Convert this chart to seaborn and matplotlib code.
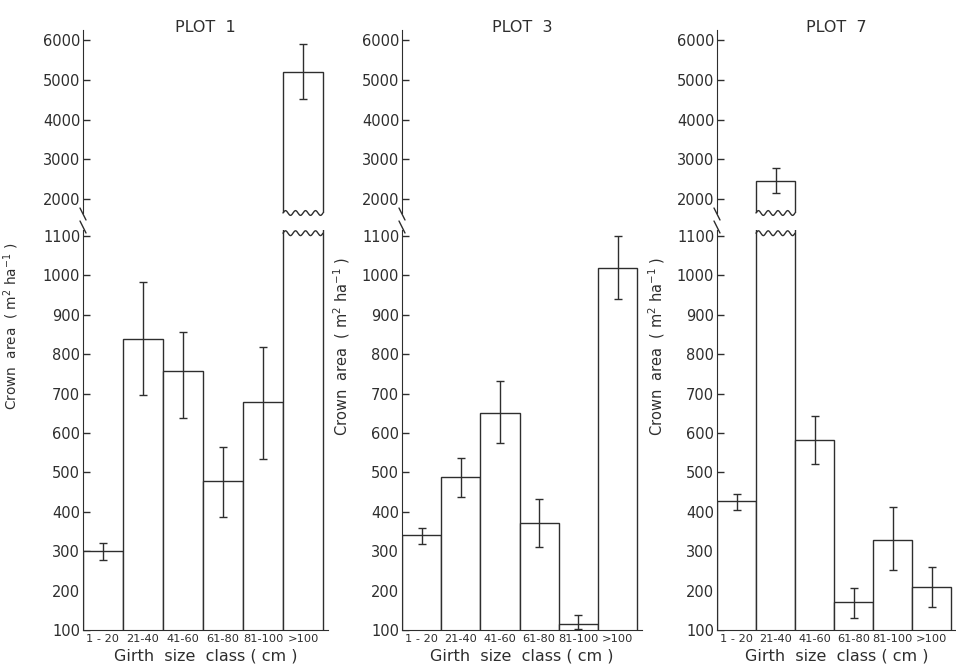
import numpy as np
import pandas as pd
import matplotlib
matplotlib.use("Agg")
import matplotlib.pyplot as plt
from matplotlib.lines import Line2D
import seaborn as sns

# --------- data ------------------------------
classes = ["1 - 20", "21-40", "41-60", "61-80", "81-100", ">100"]
plot_names = ["PLOT  1", "PLOT  3", "PLOT  7"]

# mean crown area (m2 ha-1) and the ends of the error bars
plot1_mean = [300, 838, 757, 478, 678, 5200]
plot1_low = [278, 697, 638, 387, 535, 4520]
plot1_high = [320, 982, 857, 565, 817, 5900]

plot3_mean = [340, 488, 650, 372, 116, 1019]
plot3_low = [318, 437, 575, 311, 103, 940]
plot3_high = [360, 536, 733, 432, 138, 1100]

plot7_mean = [427, 2460, 582, 170, 328, 210]
plot7_low = [405, 2150, 521, 130, 251, 159]
plot7_high = [446, 2790, 643, 206, 413, 261]

lower_ticks = list(range(100, 1200, 100))
upper_ticks = [2000, 3000, 4000, 5000, 6000]
# ---------------------------------------------

INK = "#2e2e2e"
W, H = 956, 672
LOWER_LIM = (100, 1115)
UPPER_LIM = (1650, 6250)

sns.set_style("ticks")
plt.rcParams["font.family"] = ["DejaVu Sans"]
plt.rcParams["text.color"] = INK
plt.rcParams["axes.labelcolor"] = INK
plt.rcParams["xtick.color"] = INK
plt.rcParams["ytick.color"] = INK

fig = plt.figure(figsize=(W / 100, H / 100), dpi=100)

# pixel layout of each panel: left edge of axis, width of one bar,
# y label position (axes coords) and y label size
panels = [
    (plot1_mean, plot1_low, plot1_high, 83, 40.0, -0.255, 0.76, 9.8),
    (plot3_mean, plot3_low, plot3_high, 402, 39.2, -0.21, 0.71, 10.5),
    (plot7_mean, plot7_low, plot7_high, 717, 39.0, -0.21, 0.71, 10.5),
]

low_top, low_bot = 230, 630
up_top, up_bot = 30, 213


def px_rect(left, top, width, bottom):
    return [left / W, 1 - bottom / H, width / W, (bottom - top) / H]


for k, (mean, lo, hi, x0, bw, lab_x, lab_y, lab_fs) in enumerate(panels):
    width_px = bw * 6.12
    ax_lo = fig.add_axes(px_rect(x0, low_top, width_px, low_bot))
    ax_up = fig.add_axes(px_rect(x0, up_top, width_px, up_bot))

    df = pd.DataFrame({"cls": classes, "area": mean})
    mean = np.array(mean)
    yerr = [mean - np.array(lo), np.array(hi) - mean]
    pos = np.arange(len(classes))

    for ax in (ax_lo, ax_up):
        sns.barplot(data=df, x="cls", y="area", order=classes, ax=ax,
                    color="white", saturation=1, edgecolor=INK, linewidth=1.0,
                    width=1.0, errorbar=None)
        ax.errorbar(pos, mean, yerr=yerr, fmt="none", ecolor=INK,
                    elinewidth=1.0, capsize=3, capthick=1.0)
        ax.set_xlim(-0.5, 5.62)
        ax.set_xlabel("")
        ax.set_ylabel("")
        ax.tick_params(axis="y", direction="in", length=5, width=1,
                       labelsize=10.5, pad=2)
        for s in ("top", "right"):
            ax.spines[s].set_visible(False)
        ax.spines["left"].set_color(INK)
        ax.spines["bottom"].set_color(INK)

    ax_lo.set_ylim(*LOWER_LIM)
    ax_lo.set_yticks(lower_ticks)
    ax_lo.tick_params(axis="x", length=0, labelsize=8.2, pad=3)
    ax_lo.set_xticks(pos)
    ax_lo.set_xticklabels(classes)
    ax_lo.set_xlabel("Girth  size  class ( cm )", fontsize=11.5, labelpad=3)
    ax_lo.set_ylabel("Crown  area  ( m$^2$ ha$^{-1}$ )", fontsize=lab_fs)
    ax_lo.yaxis.set_label_coords(lab_x, lab_y)

    ax_up.set_ylim(*UPPER_LIM)
    ax_up.set_yticks(upper_ticks)
    ax_up.spines["bottom"].set_visible(False)
    ax_up.set_xticks([])
    ax_up.text(0.5, 0.99, plot_names[k], transform=ax_up.transAxes,
               ha="center", va="baseline", fontsize=11.5)

    # wavy cut on bars that run through the break
    for i, v in enumerate(mean):
        if v > LOWER_LIM[1]:
            xs = np.linspace(i - 0.5, i + 0.5, 200)
            ax_lo.plot(xs, 0.992 + 0.006 * np.sin(xs * 8 * np.pi),
                       transform=ax_lo.get_xaxis_transform(), color=INK,
                       lw=1.0, clip_on=False)
            ax_up.plot(xs, 0.0 + 0.013 * np.sin(xs * 8 * np.pi),
                       transform=ax_up.get_xaxis_transform(), color=INK,
                       lw=1.0, clip_on=False)

    # break marks on the y axis
    for yy in (208, 221):
        fig.add_artist(Line2D([(x0 - 3) / W, (x0 + 3) / W],
                              [1 - yy / H, 1 - (yy + 12) / H],
                              color=INK, lw=1.0))

fig.savefig("out.png", dpi=100, facecolor="white")
